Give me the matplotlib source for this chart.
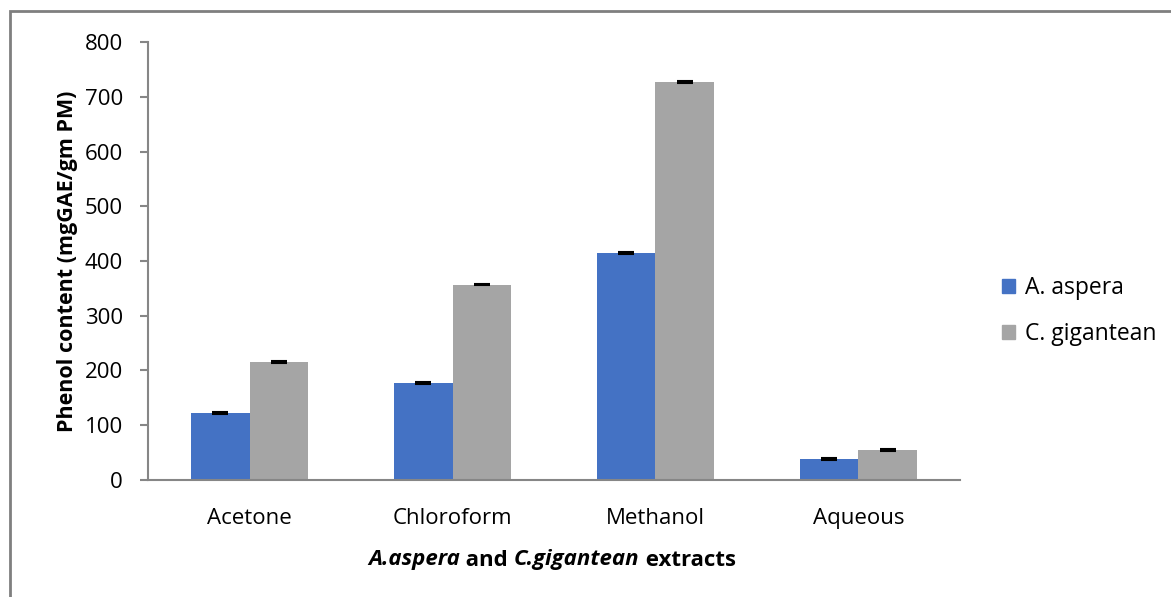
import numpy as np
from matplotlib import pyplot as plt
from matplotlib.patches import Rectangle, Patch

categories = ['Acetone', 'Chloroform', 'Methanol', 'Aqueous']
aspera = [122, 177, 415, 38]
gigantean = [215, 357, 727, 55]
aspera_err = [1.5, 1.5, 1.5, 1.5]
gigantean_err = [1.5, 1.5, 1.5, 1.5]
series_names = ['A. aspera', 'C. gigantean']

blue = '#4472C4'
grey = '#A5A5A5'
axis_col = '#868686'

plt.rcParams['font.family'] = ['Open Sans', 'DejaVu Sans']

fig = plt.figure(figsize=(11.71, 5.97), dpi=100)
ax = fig.add_axes([0.1264, 0.196, 0.6934, 0.7336])

x = np.arange(len(categories))
w = 0.286
ax.bar(x - w/2, aspera, w, color=blue, yerr=aspera_err, capsize=6,
	error_kw=dict(ecolor='black', elinewidth=1, capthick=1.5))
ax.bar(x + w/2, gigantean, w, color=grey, yerr=gigantean_err, capsize=6,
	error_kw=dict(ecolor='black', elinewidth=1, capthick=1.5))

ax.set_xlim(-0.5, 3.5)
ax.set_ylim(0, 800)
ax.set_yticks(range(0, 801, 100))
ax.set_xticks(x)
ax.set_xticklabels(categories)
ax.tick_params(axis='x', length=0, pad=20, labelsize=16)
ax.tick_params(axis='y', length=6, color=axis_col, width=1.5, pad=12, labelsize=16)
for s in ['top', 'right']:
	ax.spines[s].set_visible(False)
for s in ['left', 'bottom']:
	ax.spines[s].set_color(axis_col)
	ax.spines[s].set_linewidth(1.5)

ax.set_ylabel('Phenol content (mgGAE/gm PM)', fontsize=15.5, fontweight='bold', labelpad=5)

# x label with mixed italic / bold pieces
pieces = [('A.aspera', 'italic'), (' and ', 'normal'), ('C.gigantean', 'italic'), (' extracts', 'normal')]
fig.canvas.draw()
r = fig.canvas.get_renderer()
texts = []
total = 0
for s, st in pieces:
	t = fig.text(0, 0, s, fontsize=16, fontweight='bold', style=st, va='center')
	bb = t.get_window_extent(r)
	texts.append((t, bb.width))
	total += bb.width
xpos = 552 - total/2
for t, wd in texts:
	t.set_position((xpos/1171, 1 - 560/597))
	xpos += wd

handles = [Patch(color=blue), Patch(color=grey)]
fig.legend(handles, series_names, loc='center left', bbox_to_anchor=(981/1171, 1 - 311/597),
	frameon=False, fontsize=16.5, handlelength=0.6, handleheight=0.6, handletextpad=0.4,
	labelspacing=0.95)

fig.patches.append(Rectangle((10/1171, -0.1), 1.2, (597-11)/597 + 0.1, transform=fig.transFigure,
	fill=False, edgecolor='#7f7f7f', linewidth=2))

fig.savefig('out.png', dpi=100)
plt.close('all')
